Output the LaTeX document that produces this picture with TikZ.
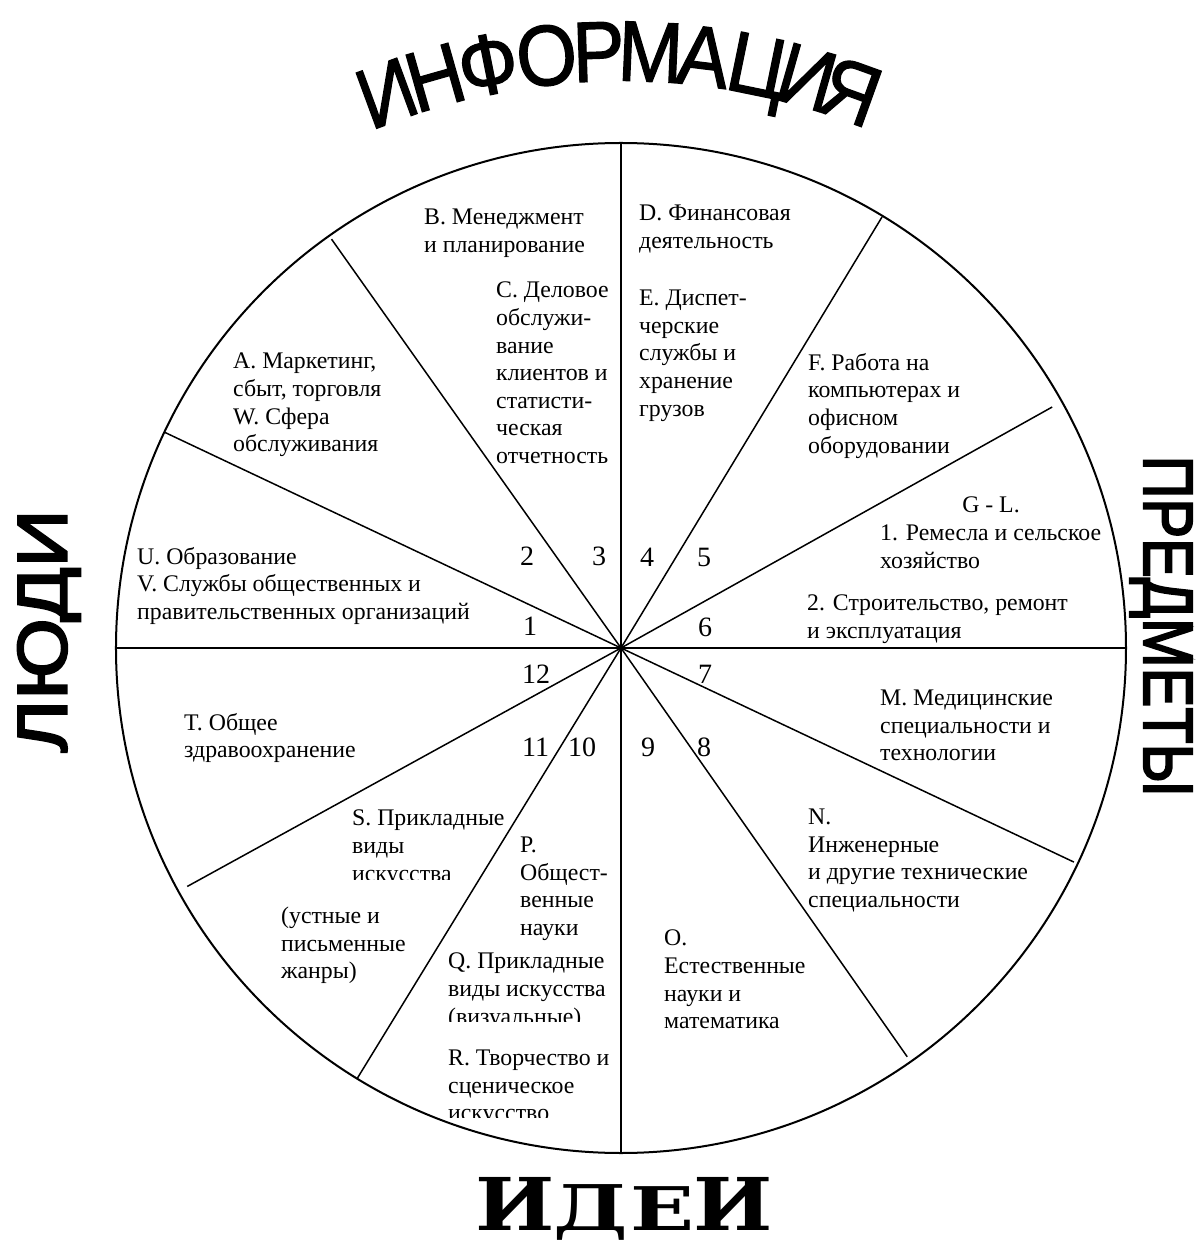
\documentclass[tikz,border=0pt]{standalone}
\usepackage{fontspec}
\setmainfont{Liberation Serif}
\newfontfamily\wordartfont[FakeBold=1.5]{Liberation Sans}
\newfontfamily\sidefont[FakeBold=3]{Liberation Sans}
\newfontfamily\ideasfont{DejaVu Serif}

\tikzset{
  sector/.style={font={\fontsize{23.8}{27.6}\selectfont}, align=left, inner sep=0pt, anchor=north west},
  num/.style={font={\fontsize{28}{28}\selectfont}, inner sep=0pt, anchor=north west},
  spoke/.style={line width=1.5pt},
  bigletter/.style={font={\wordartfont\fontsize{78}{80}\selectfont}, inner sep=0pt},
  bigword/.style={font={\sidefont\fontsize{70}{70}\selectfont}, inner sep=0pt},
  idealetter/.style={font={\ideasfont\bfseries\fontsize{70}{70}\selectfont}, inner sep=0pt, xscale=1.2},
}

\begin{document}
\begin{tikzpicture}[x=1pt, y=1pt]
    % Picture size 1200 x 1245, centre of the wheel at (621,648) from the top left
    \useasboundingbox (-621,-597) rectangle (579,648);
    \def\R{505}
    \coordinate (c) at (0,0);

    % Outer circle
    \draw[line width=2pt] (c) circle (\R);

    % Spokes between the twelve sectors
    \foreach \ang/\len in {0/505, 29.2/494, 58.8/504, 90/505, 125.3/501, 154.7/505,
                           180/505, 208.8/495, 238.5/505, 270/505, 305/499, 334.7/501}
        \draw[spoke] (c) -- (\ang:\len);

    % Sector numbers round the centre
    \foreach \n/\x/\y in {1/-98/31, 2/-101/101, 3/-29/101, 4/19/100, 5/76/100, 6/77/30,
                          7/77/-17, 8/76/-90, 9/20/-90, 10/-53/-90, 11/-99/-90, 12/-99/-17}
        \node[num] (n\n) at (\x,\y) {\n};

    % Upper half
    \node[sector] (secB) at (-197,439) {B. Менеджмент\\и планирование};
    \node[sector] (secC) at (-125,366) {C. Деловое\\обслужи-\\вание\\клиентов и\\статисти-\\ческая\\отчетность};
    \node[sector] (secA) at (-388,295) {A. Маркетинг,\\сбыт, торговля\\W. Сфера\\обслуживания};
    \node[sector] (secD) at (18,443) {D. Финансовая\\деятельность};
    \node[sector] (secE) at (18,358) {E. Диспет-\\черские\\службы и\\хранение\\грузов};
    \node[sector] (secF) at (187,295) {F. Работа на\\компьютерах и\\офисном\\оборудовании};
    \node[sector, anchor=north] (secGL) at (370,151) {G - L.};
    \node[sector] (secG) at (259,123) {1. Ремесла и сельское\\хозяйство};
    \node[sector] (secK) at (186,53) {2. Строительство, ремонт\\и эксплуатация};
    \node[sector] (secU) at (-484,101) {U. Образование\\V. Службы общественных и\\правительственных организаций};

    % Lower half
    \node[sector] (secT) at (-437,-65) {T. Общее\\здравоохранение};
    \node[sector] (secM) at (259,-42) {M. Медицинские\\специальности и\\технологии};
    \node[sector] (secN) at (187,-161) {N.\\Инженерные\\и другие технические\\специальности};
    \node[sector] (secO) at (43,-282) {O.\\Естественные\\науки и\\математика};
    \node[sector] (secP) at (-101,-189) {P.\\Общест-\\венные\\науки};
    \node[sector] (secS2) at (-340,-259) {(устные и\\письменные\\жанры)};

    % Text boxes cut off at the bottom
    \begin{scope}
        \clip (-280,-231) rectangle (-80,-150);
        \node[sector] (secS) at (-269,-162) {S. Прикладные\\виды\\искусства};
    \end{scope}
    \begin{scope}
        \clip (-180,-373) rectangle (10,-290);
        \node[sector] (secQ) at (-173,-305) {Q. Прикладные\\виды искусства\\(визуальные)};
    \end{scope}
    \begin{scope}
        \clip (-180,-469) rectangle (10,-390);
        \node[sector] (secR) at (-173,-402) {R. Творчество и\\сценическое\\искусство};
    \end{scope}

    % ИНФОРМАЦИЯ on an arc above the wheel
    \begin{scope}[shift={(0,-82)}]
        \foreach \ch/\a [count=\i] in {И/-20.2, Н/-15.9, Ф/-11.3, О/-6.3, Р/-1.9,
                                       М/2.5, А/7.0, Ц/11.6, И/15.9, Я/19.8}
            \node[bigletter, anchor=base, rotate={-1*(\a)}, yscale=1.1] (info\i) at ({90-(\a)}:649) {\ch};
    \end{scope}

    % Side words
    \node[bigword, rotate=90, xscale=1.15] (people) at (-572,17) {ЛЮДИ};
    \node[bigword, rotate=-90, xscale=0.85] (things) at (540,22) {ПРЕДМЕТЫ};

    % ИДЕИ below the wheel
    \foreach \ch/\x/\sy [count=\i] in {И/-106/1.04, Д/-30/0.9, Е/42/0.86, И/112/1.04}
        \node[idealetter, anchor=base, yscale=\sy] (idea\i) at (\x,-582) {\ch};
\end{tikzpicture}
\end{document}
